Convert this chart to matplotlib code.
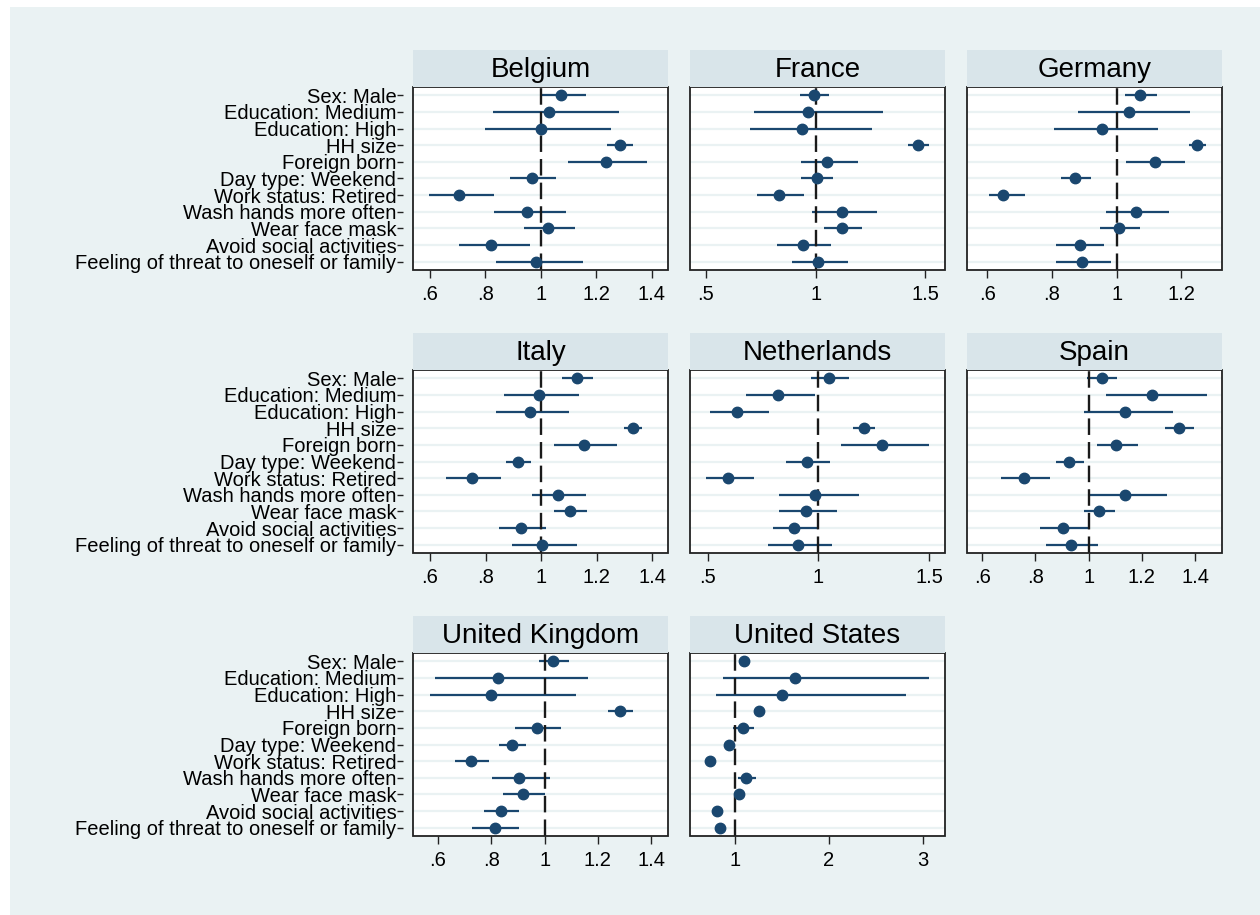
import matplotlib
matplotlib.use("Agg")
import matplotlib.pyplot as plt
from matplotlib.patches import Rectangle
import numpy as np

plt.rcParams['font.family'] = ['Liberation Sans', 'DejaVu Sans']

labels = ['Sex: Male', 'Education: Medium', 'Education: High', 'HH size', 'Foreign born',
          'Day type: Weekend', 'Work status: Retired', 'Wash hands more often',
          'Wear face mask', 'Avoid social activities', 'Feeling of threat to oneself or family']

countries = ['Belgium', 'France', 'Germany', 'Italy', 'Netherlands', 'Spain',
             'United Kingdom', 'United States']

# point estimates and 95% CI
be_b = [1.074, 1.029, 0.999, 1.284, 1.233, 0.968, 0.703, 0.951, 1.026, 0.821, 0.983]
be_lo = [1.004, 0.826, 0.797, 1.239, 1.098, 0.888, 0.596, 0.830, 0.938, 0.703, 0.839]
be_hi = [1.164, 1.282, 1.251, 1.333, 1.382, 1.055, 0.832, 1.092, 1.122, 0.960, 1.153]

fr_b = [0.992, 0.967, 0.938, 1.467, 1.053, 1.005, 0.833, 1.121, 1.120, 0.941, 1.012]
fr_lo = [0.929, 0.719, 0.701, 1.419, 0.933, 0.933, 0.731, 0.985, 1.038, 0.822, 0.891]
fr_hi = [1.061, 1.307, 1.255, 1.517, 1.191, 1.080, 0.947, 1.281, 1.209, 1.071, 1.149]

de_b = [1.073, 1.039, 0.954, 1.248, 1.118, 0.872, 0.648, 1.060, 1.008, 0.886, 0.894]
de_lo = [1.025, 0.881, 0.806, 1.223, 1.028, 0.829, 0.605, 0.967, 0.947, 0.814, 0.812]
de_hi = [1.124, 1.227, 1.126, 1.276, 1.212, 0.920, 0.718, 1.161, 1.072, 0.961, 0.981]

it_b = [1.130, 0.994, 0.961, 1.331, 1.153, 0.916, 0.750, 1.060, 1.103, 0.929, 1.002]
it_lo = [1.077, 0.867, 0.837, 1.298, 1.045, 0.872, 0.658, 0.967, 1.047, 0.849, 0.894]
it_hi = [1.188, 1.136, 1.102, 1.365, 1.272, 0.965, 0.855, 1.161, 1.165, 1.019, 1.128]

nl_b = [1.047, 0.817, 0.632, 1.205, 1.286, 0.950, 0.592, 0.986, 0.944, 0.892, 0.908]
nl_lo = [0.965, 0.675, 0.513, 1.158, 1.102, 0.856, 0.495, 0.821, 0.821, 0.795, 0.773]
nl_hi = [1.137, 0.983, 0.779, 1.254, 1.498, 1.054, 0.708, 1.185, 1.083, 0.998, 1.063]

es_b = [1.049, 1.238, 1.136, 1.338, 1.104, 0.928, 0.757, 1.136, 1.040, 0.905, 0.935]
es_lo = [0.994, 1.065, 0.982, 1.286, 1.030, 0.877, 0.669, 1.001, 0.984, 0.817, 0.841]
es_hi = [1.105, 1.444, 1.316, 1.395, 1.184, 0.982, 0.854, 1.295, 1.098, 1.005, 1.036]

uk_b = [1.032, 0.825, 0.797, 1.282, 0.970, 0.879, 0.723, 0.905, 0.920, 0.837, 0.812]
uk_lo = [0.980, 0.587, 0.569, 1.237, 0.890, 0.829, 0.665, 0.802, 0.845, 0.771, 0.728]
uk_hi = [1.090, 1.162, 1.117, 1.332, 1.060, 0.931, 0.791, 1.022, 1.000, 0.905, 0.904]

us_b = [1.099, 1.642, 1.504, 1.259, 1.089, 0.943, 0.738, 1.117, 1.046, 0.812, 0.848]
us_lo = [1.060, 0.879, 0.805, 1.220, 0.986, 0.910, 0.710, 1.032, 1.010, 0.780, 0.810]
us_hi = [1.140, 3.071, 2.819, 1.300, 1.202, 0.980, 0.770, 1.223, 1.080, 0.840, 0.880]

est = [be_b, fr_b, de_b, it_b, nl_b, es_b, uk_b, us_b]
lo = [be_lo, fr_lo, de_lo, it_lo, nl_lo, es_lo, uk_lo, us_lo]
hi = [be_hi, fr_hi, de_hi, it_hi, nl_hi, es_hi, uk_hi, us_hi]

xticks = [[.6, .8, 1, 1.2, 1.4], [.5, 1, 1.5], [.6, .8, 1, 1.2],
          [.6, .8, 1, 1.2, 1.4], [.5, 1, 1.5], [.6, .8, 1, 1.2, 1.4],
          [.6, .8, 1, 1.2, 1.4], [1, 2, 3]]
xlims = [(0.539, 1.458), (0.428, 1.589), (0.538, 1.325), (0.539, 1.457),
         (0.421, 1.571), (0.543, 1.501), (0.506, 1.463), (0.525, 3.238)]

NAVY = '#1A476F'
BG = '#EAF2F3'
STRIP = '#D9E5EA'

W, H = 1260, 915
fig = plt.figure(figsize=(W / 100, H / 100), dpi=100)
fig.patch.set_facecolor('white')
fig.patches.append(Rectangle((10 / W, 0), 1, 1 - 7 / H, transform=fig.transFigure,
                             facecolor=BG, edgecolor='none', zorder=-10))

col_x = [413, 690, 967]
row_top = [87, 370, 653]
pw, ph, sh = 255, 183, 37


def stata_fmt(v):
    s = '%g' % v
    if s.startswith('0.'):
        s = s[1:]
    return s


ypos = np.arange(1, len(labels) + 1)
for i, name in enumerate(countries):
    r, c = divmod(i, 3)
    left = col_x[c] / W
    bottom = 1 - (row_top[r] + ph) / H
    ax = fig.add_axes([left, bottom, pw / W, ph / H])
    ax.set_facecolor('white')

    for y in ypos:
        ax.axhline(y, color=BG, lw=1.6, zorder=0)
    ax.hlines(ypos, lo[i], hi[i], color=NAVY, lw=1.6, zorder=2)
    ax.axvline(1, color='#1a1a1a', lw=1.7, dashes=(7, 3), zorder=3)
    ax.plot(est[i], ypos, 'o', color=NAVY, ms=7.5, zorder=4, clip_on=False)

    ax.set_xlim(*xlims[i])
    ax.set_ylim(len(labels) + 0.5, 0.5)
    ax.set_xticks(xticks[i])
    ax.set_xticklabels([stata_fmt(t) for t in xticks[i]], fontsize=14.5)
    ax.tick_params(axis='x', length=5.5, width=1, pad=5, color='#222222')

    for sp in ax.spines.values():
        sp.set_visible(False)
    ax.spines['left'].set_position(('outward', 7))
    ax.add_patch(Rectangle((0, 0), 1, 1, transform=ax.transAxes, fill=False,
                           edgecolor='#222222', lw=1.3, zorder=5, clip_on=False))
    ax.set_yticks(ypos)
    if c == 0:
        ax.set_yticklabels(labels, fontsize=14.5)
        ax.tick_params(axis='y', length=4, width=1, pad=1, color='#222222')
    else:
        ax.set_yticklabels([])
        ax.tick_params(axis='y', length=0)

    sax = fig.add_axes([left, 1 - row_top[r] / H, pw / W, sh / H])
    sax.set_facecolor(STRIP)
    sax.set_xticks([])
    sax.set_yticks([])
    for sp in sax.spines.values():
        sp.set_visible(False)
    sax.text(0.5, 0.45, name, ha='center', va='center', fontsize=20,
             transform=sax.transAxes)

fig.savefig('out.png', dpi=100, facecolor=fig.get_facecolor())
